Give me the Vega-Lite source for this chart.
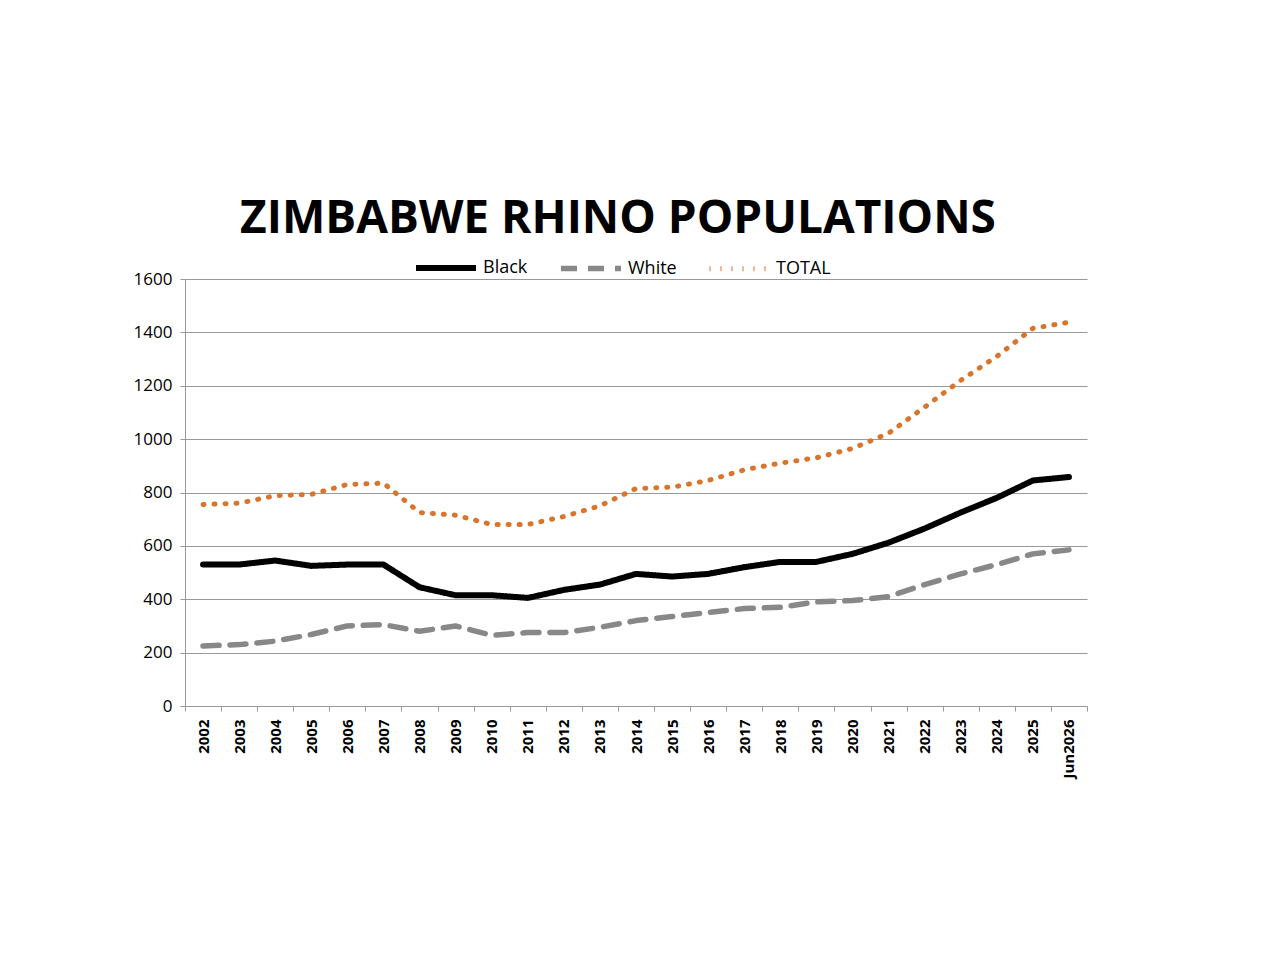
{
  "$schema": "https://vega.github.io/schema/vega-lite/v6.json",
  "autosize": "none",
  "width": 902,
  "height": 427,
  "padding": {"left": 185, "top": 279, "right": 197, "bottom": 250},
  "background": "white",
  "title": {"text": "ZIMBABWE RHINO POPULATIONS", "fontSize": 46, "font": "Open Sans", "fontWeight": "bold", "color": "black", "offset": 62, "anchor": "middle", "dx": -18, "dy": 70},
  "data": {"values": [
    {"year": "2002", "Black": 530, "White": 225, "TOTAL": 755},
    {"year": "2003", "Black": 530, "White": 230, "TOTAL": 760},
    {"year": "2004", "Black": 545, "White": 243, "TOTAL": 788},
    {"year": "2005", "Black": 525, "White": 268, "TOTAL": 793},
    {"year": "2006", "Black": 530, "White": 300, "TOTAL": 830},
    {"year": "2007", "Black": 530, "White": 305, "TOTAL": 835},
    {"year": "2008", "Black": 445, "White": 280, "TOTAL": 725},
    {"year": "2009", "Black": 415, "White": 300, "TOTAL": 715},
    {"year": "2010", "Black": 415, "White": 265, "TOTAL": 680},
    {"year": "2011", "Black": 405, "White": 275, "TOTAL": 680},
    {"year": "2012", "Black": 435, "White": 275, "TOTAL": 710},
    {"year": "2013", "Black": 455, "White": 295, "TOTAL": 750},
    {"year": "2014", "Black": 495, "White": 320, "TOTAL": 815},
    {"year": "2015", "Black": 485, "White": 335, "TOTAL": 820},
    {"year": "2016", "Black": 495, "White": 350, "TOTAL": 845},
    {"year": "2017", "Black": 520, "White": 365, "TOTAL": 885},
    {"year": "2018", "Black": 540, "White": 370, "TOTAL": 910},
    {"year": "2019", "Black": 540, "White": 390, "TOTAL": 930},
    {"year": "2020", "Black": 570, "White": 395, "TOTAL": 965},
    {"year": "2021", "Black": 612, "White": 410, "TOTAL": 1022},
    {"year": "2022", "Black": 665, "White": 455, "TOTAL": 1120},
    {"year": "2023", "Black": 725, "White": 495, "TOTAL": 1220},
    {"year": "2024", "Black": 780, "White": 530, "TOTAL": 1310},
    {"year": "2025", "Black": 845, "White": 570, "TOTAL": 1415},
    {"year": "Jun2026", "Black": 858, "White": 585, "TOTAL": 1438}
  ]},
  "transform": [{"fold": ["Black", "White", "TOTAL"], "as": ["series", "value"]}],
  "mark": {"type": "line", "strokeCap": "round", "strokeJoin": "round"},
  "encoding": {
    "x": {"field": "year", "type": "nominal", "sort": null, "title": null,
      "axis": {"labelAngle": -90, "labelFontSize": 15, "labelFontWeight": "bold", "labelFont": "Open Sans", "labelColor": "black", "domainColor": "#999", "tickColor": "#999", "labelPadding": 8, "tickBand": "extent"}},
    "y": {"field": "value", "type": "quantitative", "title": null, "scale": {"domain": [0, 1600]},
      "axis": {"values": [0,200,400,600,800,1000,1200,1400,1600], "format": "d", "labelFontSize": 17, "labelFont": "Open Sans", "labelColor": "black", "domainColor": "#999", "tickColor": "#999", "gridColor": "#999", "labelPadding": 8}},
    "color": {"field": "series", "type": "nominal", "title": null,
      "scale": {"domain": ["Black", "White", "TOTAL"], "range": ["black", "#888888", "#D9742C"]}},
    "strokeDash": {"field": "series", "type": "nominal", "title": null,
      "scale": {"domain": ["Black", "White", "TOTAL"], "range": [[1, 0], [16, 11], [1, 10]]}},
    "strokeWidth": {"field": "series", "type": "nominal", "title": null,
      "scale": {"domain": ["Black", "White", "TOTAL"], "range": [6, 5, 4]}}
  },
  "config": {
    "view": {"stroke": null},
    "legend": {"orient": "none", "legendX": 228, "legendY": -44, "direction": "horizontal", "labelFontSize": 18, "labelFont": "Open Sans", "labelColor": "black", "symbolType": "stroke", "symbolSize": 3600, "columnPadding": 22, "labelOffset": 4}
  }
}
